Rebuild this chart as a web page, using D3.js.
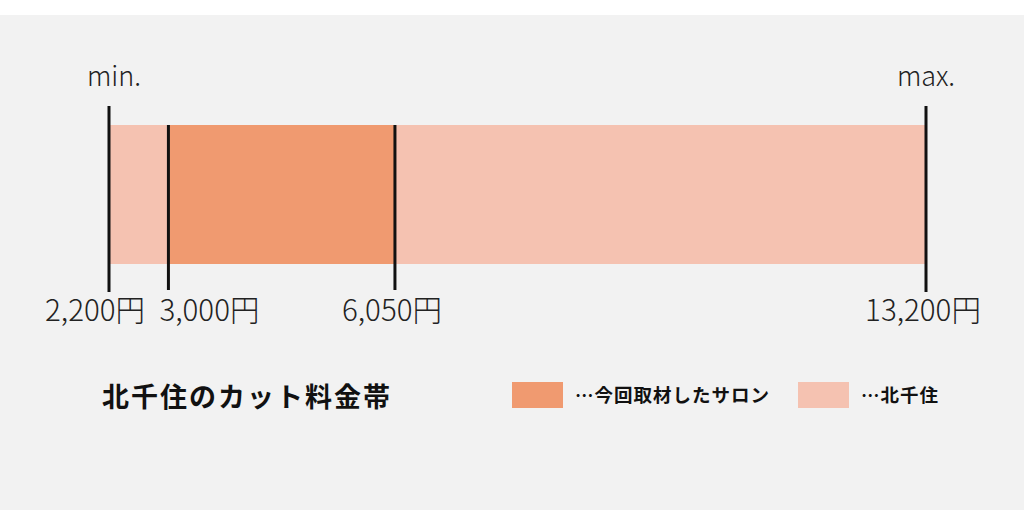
<!DOCTYPE html>
<html>
<head>
<meta charset="utf-8">
<script src="https://cdn.jsdelivr.net/npm/d3@7"></script>
<style>
  html, body { margin: 0; padding: 0; background: #fff; }
  svg { display: block; }
</style>
</head>
<body>
<svg id="chart"></svg>
<script>
//// DATA
const areaRange = [2200, 13200];      // 北千住 min / max
const salonRange = [3000, 6050];      // 今回取材したサロン
const tickValues = [2200, 3000, 6050, 13200];
const tickLabels = ["2,200円", "3,000円", "6,050円", "13,200円"];
const endLabels = ["min.", "max."];
const legendLabels = ["…今回取材したサロン", "…北千住"];
const title = "北千住のカット料金帯";

//// SETTINGS
const width = 1024;
const height = 510;
const colors = { salon: "#f09a70", area: "#f5c2b1", bg: "#f2f2f2", line: "#111" };
const font = "'Noto Sans CJK JP', 'Noto Sans', sans-serif";

const svg = d3.select("#chart").attr("width", width).attr("height", height);

// gray panel under the white strip at the top
svg.append("rect")
    .attr("x", 0).attr("y", 15)
    .attr("width", width).attr("height", height - 15)
    .attr("fill", colors.bg);

const x = d3.scaleLinear().domain(areaRange).range([109, 926]);
const barTop = 125;
const barBottom = 264;

// bars
svg.append("rect")
    .attr("x", x(areaRange[0]))
    .attr("y", barTop)
    .attr("width", x(areaRange[1]) - x(areaRange[0]))
    .attr("height", barBottom - barTop)
    .attr("fill", colors.area);

svg.append("rect")
    .attr("x", x(salonRange[0]))
    .attr("y", barTop)
    .attr("width", x(salonRange[1]) - x(salonRange[0]))
    .attr("height", barBottom - barTop)
    .attr("fill", colors.salon);

// tick lines: the outer two reach up to the min./max. labels
const isEnd = d => d === areaRange[0] || d === areaRange[1];
svg.selectAll(".tick-line")
    .data(tickValues)
    .enter()
    .append("line")
    .attr("class", "tick-line")
    .attr("x1", d => x(d)).attr("x2", d => x(d))
    .attr("y1", d => isEnd(d) ? 106 : barTop)
    .attr("y2", d => isEnd(d) ? 292 : 290)
    .attr("stroke", colors.line)
    .attr("stroke-width", 3);

// price labels (first two pushed apart so they don't collide)
const anchorFor = i => i === 0 ? "end" : (i === 1 ? "start" : "middle");
const dxFor = i => i === 0 ? 36 : (i === 1 ? -9 : -3);
svg.selectAll(".tick-label")
    .data(tickValues)
    .enter()
    .append("text")
    .attr("class", "tick-label")
    .attr("x", (d, i) => x(d) + dxFor(i))
    .attr("y", 321)
    .attr("text-anchor", (d, i) => anchorFor(i))
    .style("font-family", font)
    .style("font-size", "29.5px")
    .style("font-weight", 300)
    .style("fill", "#222")
    .text((d, i) => tickLabels[i]);

// min. / max.
svg.selectAll(".end-label")
    .data(areaRange)
    .enter()
    .append("text")
    .attr("class", "end-label")
    .attr("x", (d, i) => x(d) + (i === 0 ? 5 : 0))
    .attr("y", 86)
    .attr("text-anchor", "middle")
    .style("font-family", font)
    .style("font-size", "27px")
    .style("font-weight", 300)
    .style("fill", "#222")
    .text((d, i) => endLabels[i]);

// title
svg.append("text")
    .attr("x", 102)
    .attr("y", 407)
    .style("font-family", font)
    .style("font-size", "27px")
    .style("font-weight", 700)
    .style("letter-spacing", "2px")
    .style("fill", "#111")
    .text(title);

// legend
const legend = svg.selectAll(".legend")
    .data(legendLabels)
    .enter()
    .append("g")
    .attr("class", "legend")
    .attr("transform", (d, i) => `translate(${i === 0 ? 512 : 798}, 382)`);

legend.append("rect")
    .attr("width", 51)
    .attr("height", 26)
    .attr("fill", (d, i) => i === 0 ? colors.salon : colors.area);

legend.append("text")
    .attr("x", 63)
    .attr("y", 20)
    .style("font-family", font)
    .style("font-size", "18.5px")
    .style("font-weight", 700)
    .style("letter-spacing", "1px")
    .style("fill", "#111")
    .text(d => d);
</script>
</body>
</html>
